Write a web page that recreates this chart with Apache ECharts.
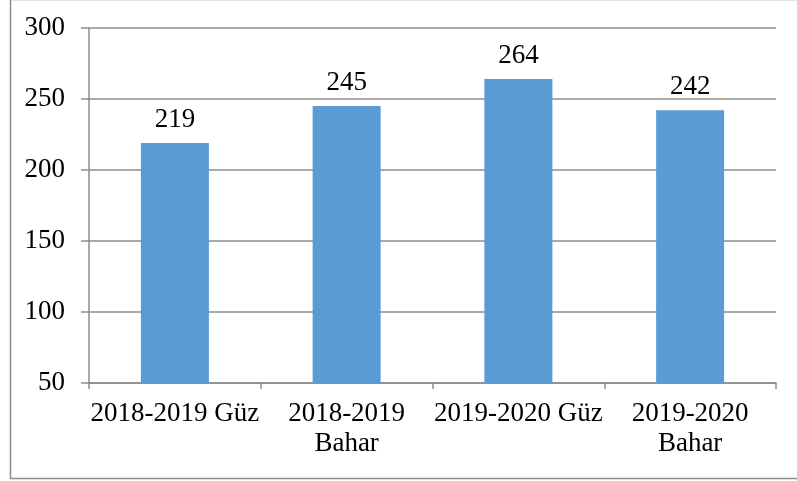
<!DOCTYPE html>
<html>
<head>
<meta charset="utf-8">
<style>
  html, body { margin: 0; padding: 0; background: #fff; }
  #main { width: 797px; height: 481px; }
</style>
<script src="https://cdn.jsdelivr.net/npm/echarts@6/dist/echarts.min.js"></script>
</head>
<body>
<div id="main"></div>
<script>
// 数据
var categories = ['2018-2019 Güz', '2018-2019\nBahar', '2019-2020 Güz', '2019-2020\nBahar'];
var values = [219, 245, 264, 242];

var myCharts = echarts.init(document.getElementById('main'));

var font = '"Liberation Serif", "Times New Roman", serif';

var option = {
    animation: false,
    textStyle: { fontFamily: font },
    grid: {
        left: 89,
        right: 21,
        top: 28,
        bottom: 98
    },
    //外框
    graphic: [{
        type: 'rect',
        left: 8,
        top: -3,
        shape: { width: 800, height: 479 },
        style: { fill: 'none', stroke: '#8c8c8c', lineWidth: 1.5 },
        silent: true
    }],
    xAxis: {
        type: 'category',
        data: categories,
        axisLine: { lineStyle: { color: '#8c8c8c', width: 1.5 } },
        axisTick: { show: true, length: 6, lineStyle: { color: '#8c8c8c', width: 1.5 } },
        axisLabel: {
            color: '#000',
            fontFamily: font,
            fontSize: 27,
            lineHeight: 30,
            margin: 16,
            interval: 0
        }
    },
    yAxis: {
        type: 'value',
        min: 50,
        max: 300,
        interval: 50,
        axisLine: { show: true, lineStyle: { color: '#8c8c8c', width: 1.5 } },
        axisTick: { show: true, length: 8, lineStyle: { color: '#8c8c8c', width: 1.5 } },
        axisLabel: {
            color: '#000',
            fontFamily: font,
            fontSize: 27,
            margin: 24
        },
        splitLine: { lineStyle: { color: '#8c8c8c', width: 1.5 } }
    },
    series: [{
        type: 'bar',
        data: values,
        barWidth: 68,
        itemStyle: { color: '#5b9bd5' },
        label: {
            show: true,
            position: 'top',
            distance: 10,
            color: '#000',
            fontFamily: font,
            fontSize: 27
        }
    }]
};

myCharts.setOption(option);

window.addEventListener('resize', function () {
    myCharts.resize();
});
</script>
</body>
</html>
